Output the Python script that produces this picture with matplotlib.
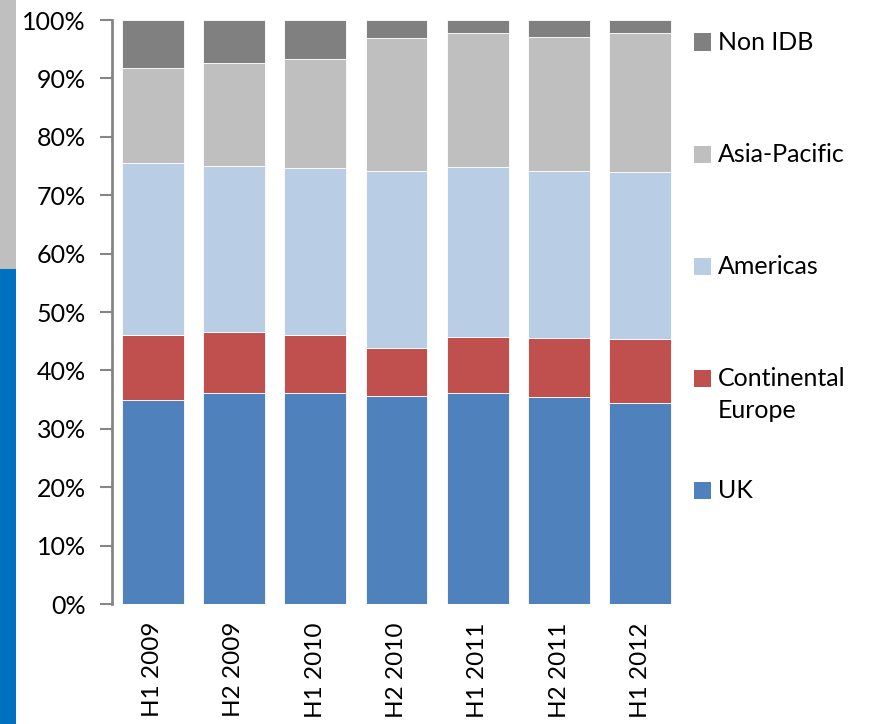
import matplotlib.pyplot as plt
from matplotlib.patches import Rectangle
from matplotlib.ticker import PercentFormatter

plt.rcParams["font.family"] = ["Lato", "DejaVu Sans"]

periods = ["H1 2009", "H2 2009", "H1 2010", "H2 2010", "H1 2011", "H2 2011", "H1 2012"]

# share of revenue by region, in percent (stacked bottom to top)
uk = [34.9, 36.1, 36.2, 35.7, 36.1, 35.5, 34.4]
continental_europe = [11.2, 10.4, 9.9, 8.2, 9.7, 10.0, 10.9]
americas = [29.4, 28.5, 28.5, 30.2, 29.0, 28.6, 28.6]
asia_pacific = [16.3, 17.6, 18.8, 22.8, 22.9, 23.0, 23.8]
non_idb = [8.2, 7.4, 6.6, 3.1, 2.3, 2.9, 2.3]

series = [
    ("UK", uk, "#4F81BD"),
    ("Continental\nEurope", continental_europe, "#C0504D"),
    ("Americas", americas, "#B9CDE5"),
    ("Asia-Pacific", asia_pacific, "#BFBFBF"),
    ("Non IDB", non_idb, "#808080"),
]

W, H = 872, 724
fig = plt.figure(figsize=(W / 100, H / 100), dpi=100)

# slide side strip
fig.add_artist(Rectangle((0, 0), 16 / W, (H - 269) / H, transform=fig.transFigure,
                         color="#0070C0", lw=0))
fig.add_artist(Rectangle((0, (H - 269) / H), 16 / W, 269 / H, transform=fig.transFigure,
                         color="#BFBFBF", lw=0))

ax = fig.add_axes([112 / W, (H - 604) / H, (681 - 112) / W, (604 - 20) / H])

x = range(len(periods))
bottom = [0.0] * len(periods)
for name, vals, color in series:
    ax.bar(x, vals, width=0.76, bottom=bottom, color=color,
           edgecolor="#FFFFFF", linewidth=0.6, label=name)
    bottom = [b + v for b, v in zip(bottom, vals)]

ax.set_xlim(-0.5, len(periods) - 0.5)
ax.set_ylim(0, 100)
ax.set_yticks(range(0, 101, 10))
ax.yaxis.set_major_formatter(PercentFormatter(decimals=0))
ax.set_xticks(list(x))
ax.set_xticklabels(periods, rotation=90, va="top", ha="center", fontsize=17.5)

for side in ["top", "right", "bottom"]:
    ax.spines[side].set_visible(False)
ax.spines["left"].set_color("#868686")
ax.spines["left"].set_linewidth(2)
ax.tick_params(axis="y", length=9, width=1.5, color="#868686", labelsize=18, pad=10)
ax.tick_params(axis="x", length=0, pad=13)

# legend drawn as swatches with labels, top entry first
legend_rows = [490, 378.7, 266, 154.5, 42]
for (name, _, color), yc in zip(series, legend_rows):
    fig.add_artist(Rectangle((694 / W, (H - yc - 8.5) / H), 17 / W, 17 / H,
                             transform=fig.transFigure, color=color, lw=0))
    if "\n" in name:
        fig.text(718 / W, (H - yc - 15.6) / H, name, fontsize=18, va="center", ha="left",
                 linespacing=1.49)
    else:
        fig.text(718 / W, (H - yc) / H, name, fontsize=18, va="center", ha="left")

fig.savefig("out.png", dpi=100)
